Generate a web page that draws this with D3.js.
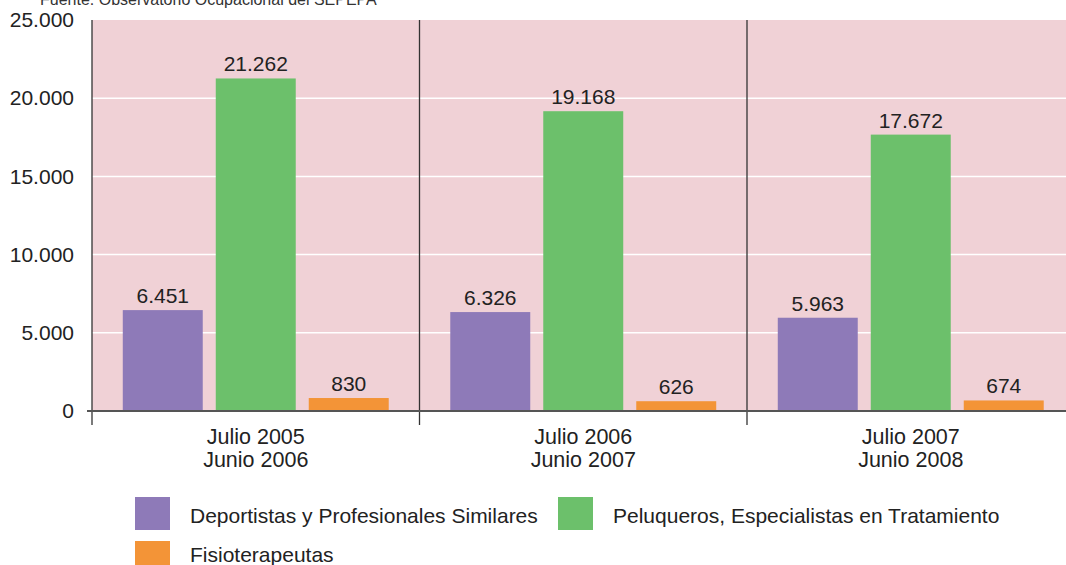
<!DOCTYPE html>
<html>
<head>
<meta charset="utf-8">
<script src="https://cdn.jsdelivr.net/npm/d3@7"></script>
<style>
  body { margin: 0; background: #fff; }
  svg { display: block; font-family: "Liberation Sans", Arial, sans-serif; }
</style>
</head>
<body>
<script>
// datos
var periodos = [["Julio 2005", "Junio 2006"], ["Julio 2006", "Junio 2007"], ["Julio 2007", "Junio 2008"]];
var series = ["Deportistas y Profesionales Similares", "Peluqueros, Especialistas en Tratamiento", "Fisioterapeutas"];
var deportistas = [6451, 6326, 5963];
var peluqueros = [21262, 19168, 17672];
var fisioterapeutas = [830, 626, 674];
var ticksY = [0, 5000, 10000, 15000, 20000, 25000];
var colores = ["#8e7ab8", "#6cc06b", "#f39437"];

var svgW = 1066, svgH = 565;
var x0 = 92, x1 = 1066, yTop = 20, yBase = 411;

var fmt = function(v) { return d3.format(",")(v).replace(/,/g, "."); };

var svg = d3.select("body").append("svg")
    .attr("width", svgW)
    .attr("height", svgH);

var yScale = d3.scaleLinear().domain([0, 25000]).range([yBase, yTop]);
var xScale = d3.scaleBand().domain(d3.range(periodos.length)).range([x0, x0 + 3 * 327.5]);
var xInner = d3.scaleBand().domain(d3.range(series.length)).range([0, 327.5]).paddingInner(0.14).paddingOuter(0.331);

// fuente (cortada arriba)
svg.append("text")
    .attr("x", 40).attr("y", 5)
    .attr("font-size", 16).attr("fill", "#333")
    .text("Fuente: Observatorio Ocupacional del SEPEPA");

// fondo
svg.append("rect")
    .attr("x", x0).attr("y", yTop)
    .attr("width", x1 - x0).attr("height", yBase - yTop)
    .attr("fill", "#f0d1d6");

// rejilla
svg.append("g").selectAll("line")
    .data(ticksY.slice(1, -1))
    .enter().append("line")
    .attr("x1", x0).attr("x2", x1)
    .attr("y1", function(d) { return yScale(d); })
    .attr("y2", function(d) { return yScale(d); })
    .attr("stroke", "#fff").attr("stroke-width", 1.5);

// eje Y
var yAxis = d3.axisLeft(yScale).tickValues(ticksY).tickSize(0).tickPadding(18).tickFormat(fmt);
var gy = svg.append("g").attr("transform", "translate(" + x0 + ",0)").call(yAxis);
gy.select(".domain").remove();
gy.selectAll("text").attr("font-size", 21).attr("fill", "#222")
    .attr("font-family", "Liberation Sans, Arial, sans-serif");

// barras
var datos = periodos.map(function(p, i) { return [deportistas[i], peluqueros[i], fisioterapeutas[i]]; });

var grupo = svg.selectAll(".grupo")
    .data(datos)
    .enter().append("g")
    .attr("class", "grupo")
    .attr("transform", function(d, i) { return "translate(" + xScale(i) + ",0)"; });

grupo.selectAll("rect")
    .data(function(d) { return d; })
    .enter().append("rect")
    .attr("x", function(d, j) { return xInner(j); })
    .attr("y", function(d) { return yScale(d); })
    .attr("width", xInner.bandwidth())
    .attr("height", function(d) { return yBase - yScale(d); })
    .attr("fill", function(d, j) { return colores[j]; });

grupo.selectAll(".valor")
    .data(function(d) { return d; })
    .enter().append("text")
    .attr("class", "valor")
    .attr("x", function(d, j) { return xInner(j) + xInner.bandwidth() / 2; })
    .attr("y", function(d) { return yScale(d) - 7; })
    .attr("text-anchor", "middle")
    .attr("font-size", 21).attr("fill", "#222")
    .text(fmt);

// separadores verticales
svg.append("g").selectAll("line")
    .data(d3.range(periodos.length))
    .enter().append("line")
    .attr("x1", function(i) { return xScale(i); })
    .attr("x2", function(i) { return xScale(i); })
    .attr("y1", yTop).attr("y2", yBase + 14)
    .attr("stroke", "#333").attr("stroke-width", 1.3);

// linea base
svg.append("line")
    .attr("x1", 87).attr("x2", x1)
    .attr("y1", yBase).attr("y2", yBase)
    .attr("stroke", "#555").attr("stroke-width", 2);

// etiquetas categorias
var cat = svg.selectAll(".cat")
    .data(periodos)
    .enter().append("text")
    .attr("class", "cat")
    .attr("text-anchor", "middle")
    .attr("font-size", 21.5).attr("fill", "#222");
cat.selectAll("tspan")
    .data(function(d, i) { return d.map(function(t) { return { t: t, i: i }; }); })
    .enter().append("tspan")
    .attr("x", function(d) { return xScale(d.i) + xScale.bandwidth() / 2; })
    .attr("y", function(d, k) { return 444 + k * 23; })
    .text(function(d) { return d.t; });

// leyenda (x, y del cuadro, y de la linea base del texto)
var posLeyenda = [[135, 497, 523], [558, 497, 523], [135, 541, 562]];
var ley = svg.selectAll(".ley")
    .data(series)
    .enter().append("g")
    .attr("class", "ley");
ley.append("rect")
    .attr("x", function(d, i) { return posLeyenda[i][0]; })
    .attr("y", function(d, i) { return posLeyenda[i][1]; })
    .attr("width", 35).attr("height", 33)
    .attr("fill", function(d, i) { return colores[i]; });
ley.append("text")
    .attr("x", function(d, i) { return posLeyenda[i][0] + 55; })
    .attr("y", function(d, i) { return posLeyenda[i][2]; })
    .attr("font-size", 21).attr("fill", "#222")
    .text(function(d) { return d; });
</script>
</body>
</html>
